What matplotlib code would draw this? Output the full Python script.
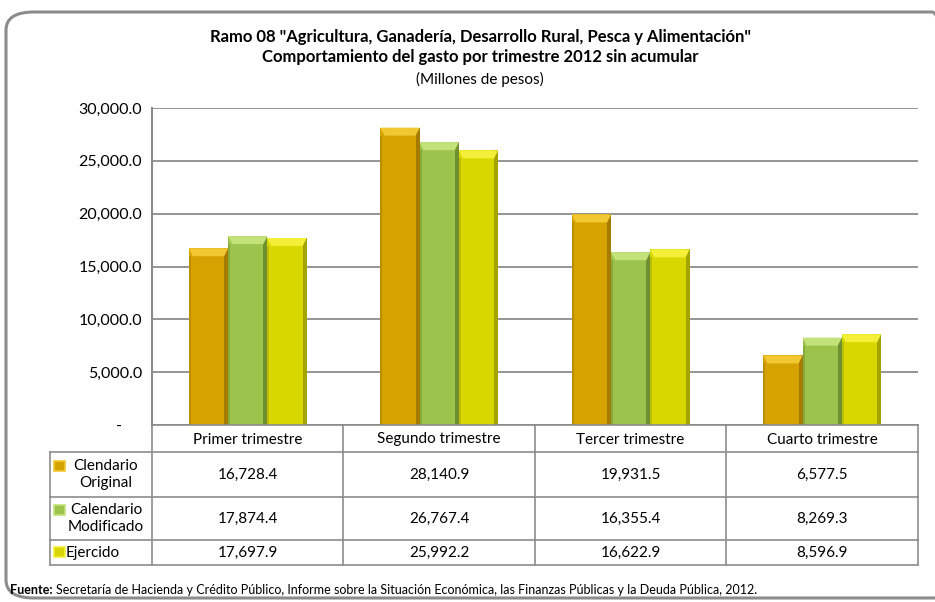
import numpy as np
import matplotlib.pyplot as plt
from matplotlib.patches import FancyBboxPatch, Rectangle, Polygon

plt.rcParams['font.family'] = ['Lato', 'DejaVu Sans']

# ── data ─────────────────────────────────────
trimestres = ["Primer trimestre", "Segundo trimestre", "Tercer trimestre", "Cuarto trimestre"]
series = ["Clendario\nOriginal", "Calendario\nModificado", "Ejercido"]
original = [16728.4, 28140.9, 19931.5, 6577.5]
modificado = [17874.4, 26767.4, 16355.4, 8269.3]
ejercido = [17697.9, 25992.2, 16622.9, 8596.9]
yticks = [0, 5000, 10000, 15000, 20000, 25000, 30000]

title1 = 'Ramo 08 "Agricultura, Ganadería, Desarrollo Rural, Pesca y Alimentación"'
title2 = "Comportamiento del gasto por trimestre 2012 sin acumular"
subtitle = "(Millones de pesos)"
fuente = ("Secretaría de Hacienda y Crédito Público, Informe sobre la Situación Económica, "
          "las Finanzas Públicas y la Deuda Pública, 2012.")

# colours: (main, top bevel, right shade)
colors = [("#D6A200", "#F2C832", "#A57C00"),
          ("#9CC44C", "#C4E27A", "#6F9030"),
          ("#D8D800", "#F4F03A", "#A4A400")]

W, H = 935, 602
fig = plt.figure(figsize=(W / 100, H / 100), dpi=100)

def fx(px):
    return px / W

def fy(py):
    return 1 - py / H

# rounded frame
frame = FancyBboxPatch((fx(6), fy(598)), fx(960) - fx(6), fy(12) - fy(598),
                       boxstyle="round,pad=0,rounding_size=0.03",
                       transform=fig.transFigure, fill=False,
                       edgecolor="#8c8c8c", linewidth=2.2)
fig.patches.append(frame)

fig.text(fx(480), fy(37), title1, ha="center", va="center", fontsize=12, fontweight="bold")
fig.text(fx(480), fy(57), title2, ha="center", va="center", fontsize=12, fontweight="bold")
fig.text(fx(480), fy(79), subtitle, ha="center", va="center", fontsize=11)

# ── bar axes ─────────────────────────────────
left, right, top, bottom = 152, 918, 108, 425
ax = fig.add_axes([fx(left), fy(bottom), fx(right) - fx(left), fy(top) - fy(bottom)])
ax.set_xlim(0, len(trimestres))
ax.set_ylim(0, 30000)
ax.set_yticks(yticks)
ax.set_yticklabels(["-" + " " * 5 if v == 0 else f"{v:,.1f}" for v in yticks], fontsize=11.5)
ax.set_xticks([])
ax.tick_params(axis="y", length=0, pad=7)
for s in ["top", "right", "bottom"]:
    ax.spines[s].set_visible(False)
ax.spines["left"].set_color("#8c8c8c")
ax.spines["left"].set_linewidth(1.5)
ax.grid(axis="y", color="#8c8c8c", linewidth=1.3)
ax.set_axisbelow(True)

bw = 0.205
px_y = 30000 / (bottom - top)          # data units per pixel (vertical)
px_x = len(trimestres) / (right - left)  # data units per pixel (horizontal)
bev = 8 * px_y
bevx = 4 * px_x
x = np.arange(len(trimestres)) + 0.5
for i, vals in enumerate([original, modificado, ejercido]):
    main, light, dark = colors[i]
    xs = x + (i - 1) * bw
    ax.bar(xs, vals, bw, color=main, edgecolor="none", zorder=2)
    for xc, v in zip(xs, vals):
        x0, x1 = xc - bw / 2, xc + bw / 2
        ax.add_patch(Rectangle((x1 - bevx, 0), bevx, v, color=dark, zorder=3, lw=0))
        ax.add_patch(Polygon([(x0, v), (x1, v), (x1 - bevx, v - bev), (x0 + bevx, v - bev)],
                             closed=True, color=light, zorder=4, lw=0))
        ax.add_patch(Rectangle((x0, 0), 2 * px_x, v - bev, color=dark, alpha=0.5, zorder=3, lw=0))

# ── data table ───────────────────────────────
tleft = 50
rows_y = [425, 452, 497, 540, 565]
cols_x = [152, 343, 535, 726, 918]
line_c = "#8c8c8c"
lw = 1.2

def hline(py, x0, x1):
    fig.add_artist(plt.Line2D([fx(x0), fx(x1)], [fy(py), fy(py)], color=line_c, lw=lw))

def vline(px, y0, y1):
    fig.add_artist(plt.Line2D([fx(px), fx(px)], [fy(y0), fy(y1)], color=line_c, lw=lw))

hline(rows_y[0], cols_x[0], cols_x[-1])
for py in rows_y[1:]:
    hline(py, tleft, cols_x[-1])
vline(tleft, rows_y[1], rows_y[-1])
for px in cols_x:
    vline(px, rows_y[0], rows_y[-1])

for j, name in enumerate(trimestres):
    fig.text(fx((cols_x[j] + cols_x[j + 1]) / 2), fy((rows_y[0] + rows_y[1]) / 2 + 1),
             name, ha="center", va="center", fontsize=11)

key_y = [466, 510, 552]
for i, vals in enumerate([original, modificado, ejercido]):
    yc = (rows_y[i + 1] + rows_y[i + 2]) / 2
    main, light, dark = colors[i]
    # legend key
    fig.patches.append(Rectangle((fx(54), fy(key_y[i] + 5)), fx(11), 10 / H,
                                 transform=fig.transFigure, facecolor=main,
                                 edgecolor=light, lw=1.2))
    if i < 2:
        fig.text(fx(106), fy(yc), series[i], ha="center", va="center", fontsize=11,
                 linespacing=1.3)
    else:
        fig.text(fx(66), fy(yc), series[i], ha="left", va="center", fontsize=11)
    for j, v in enumerate(vals):
        fig.text(fx((cols_x[j] + cols_x[j + 1]) / 2), fy(yc), f"{v:,.1f}",
                 ha="center", va="center", fontsize=11)

ft = fig.text(fx(10), fy(590), "Fuente:", ha="left", va="center", fontsize=9, fontweight="bold")
bb = ft.get_window_extent(renderer=fig.canvas.get_renderer())
fig.text(bb.x1 / W + fx(3), fy(590), fuente, ha="left", va="center", fontsize=9)

fig.savefig("out.png", dpi=100)
